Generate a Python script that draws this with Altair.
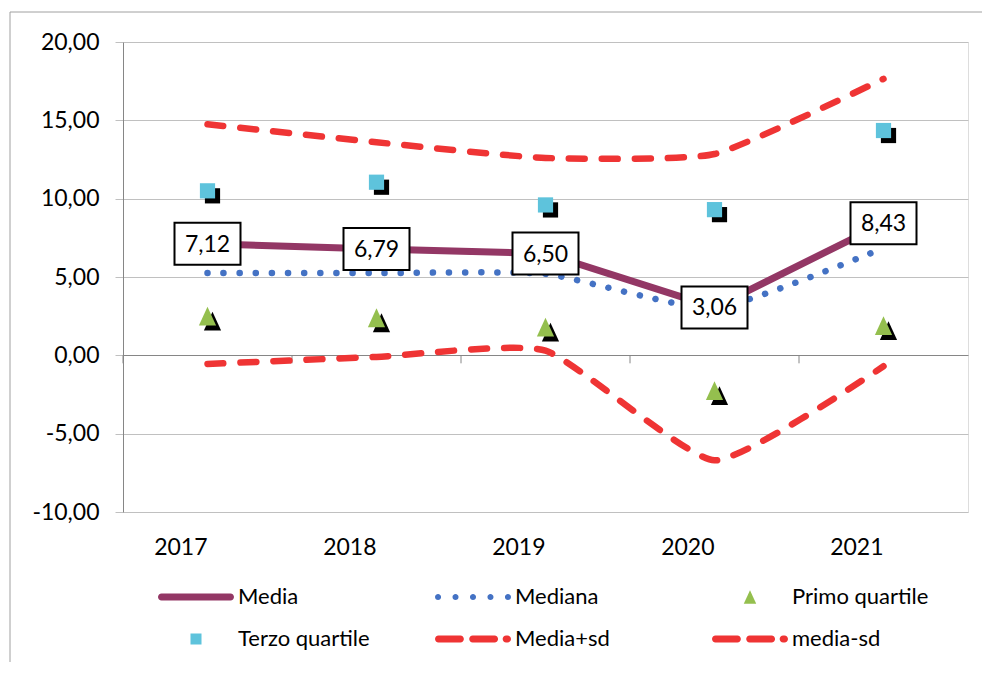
import altair as alt
import pandas as pd

anni = ["2017", "2018", "2019", "2020", "2021"]
media = [7.12, 6.79, 6.50, 3.06, 8.43]
mediana = [5.25, 5.25, 5.2, 3.0, 6.85]
primo_quartile = [2.5, 2.4, 1.8, -2.25, 1.9]
terzo_quartile = [10.5, 11.05, 9.6, 9.3, 14.35]
media_piu_sd = [14.75, 13.6, 12.6, 12.85, 17.65]
media_meno_sd = [-0.55, -0.1, 0.3, -6.7, -0.7]
etichette_media = ["7,12", "6,79", "6,50", "3,06", "8,43"]

serie = ["Media", "Mediana", "Primo quartile", "Terzo quartile", "Media+sd", "media-sd"]
# legend is filled column by column: order entries so rows read as in the original
ordine_legenda = ["Media", "Terzo quartile", "Mediana", "Media+sd", "Primo quartile", "media-sd"]
colori = {"Media": "#933765", "Mediana": "#4472c4", "Primo quartile": "#94bf4e",
          "Terzo quartile": "#5ec3dc", "Media+sd": "#ef3434", "media-sd": "#ef3434"}
valori_y = [-10, -5, 0, 5, 10, 15, 20]

FONT = "Lato"


def capsule(x0, x1, h):
    return (f"M{x0 + h},{-h}L{x1 - h},{-h}A{h},{h} 0 0 1 {x1 - h},{h}"
            f"L{x0 + h},{h}A{h},{h} 0 0 1 {x0 + h},{-h}Z")


def circle(cx, r):
    return f"M{cx - r},0A{r},{r} 0 1 1 {cx + r},0A{r},{r} 0 1 1 {cx - r},0Z"


H = 0.092
path_media = capsule(-1, 1, H)
path_mediana = "".join(circle(c, 0.08) for c in [-0.92, -0.46, 0, 0.46, 0.92])
path_dash = capsule(-1, -0.24, H) + capsule(-0.1, 0.66, H) + capsule(0.78, 1.0, H)
path_tri = "M0,-0.18L0.164,0.18L-0.164,0.18Z"
path_sq = "M-0.145,-0.145L0.145,-0.145L0.145,0.145L-0.145,0.145Z"
forme = {"Media": path_media, "Mediana": path_mediana, "Primo quartile": path_tri,
         "Terzo quartile": path_sq, "Media+sd": path_dash, "media-sd": path_dash}

valori = [media, mediana, primo_quartile, terzo_quartile, media_piu_sd, media_meno_sd]
df = pd.DataFrame(
    [{"anno": a, "serie": s, "valore": v}
     for s, vals in zip(serie, valori) for a, v in zip(anni, vals)]
)
df_lab = pd.DataFrame({"anno": anni, "valore": media, "etichetta": etichette_media})
df_anni = pd.DataFrame({"anno": anni})

xscale = alt.Scale(domain=anni, type="band", paddingInner=0, paddingOuter=0)
yscale = alt.Scale(domain=[-10, 20], nice=False, zero=False)

X = alt.X("anno:N", scale=xscale, sort=anni,
          axis=alt.Axis(title=None, domain=False, ticks=False, grid=False, labelAngle=0,
                        labelPadding=35, labelFont=FONT, labelFontSize=23, labelColor="black"))
Y = alt.Y("valore:Q", scale=yscale,
          axis=alt.Axis(title=None, values=valori_y,
                        labelExpr="(datum.value < 0 ? '-' : '') + replace(format(abs(datum.value), '.2f'), '.', ',')",
                        grid=True,
                        gridColor={"condition": {"test": "datum.value === 0", "value": "#868686"},
                                   "value": "#c0c0c0"},
                        domainColor="#868686", tickColor="#c0c0c0", tickSize=8,
                        labelFont=FONT, labelFontSize=23, labelColor="black", labelPadding=16))

base = alt.Chart(df)

frame = alt.Chart(pd.DataFrame({"k": [0]})).mark_rect(
    fillOpacity=0, stroke="#a0a0a0", strokeWidth=1
).encode(x=alt.value(-113), x2=alt.value(900), y=alt.value(-30), y2=alt.value(700))

ticks = alt.Chart(df_anni).mark_rule(color="#868686", strokeWidth=1).encode(
    x=alt.X("anno:N", scale=xscale, sort=anni, bandPosition=0),
    y=alt.datum(0), y2=alt.datum(-0.51)
)

line_media = base.transform_filter(alt.datum.serie == "Media").mark_line(
    color=colori["Media"], strokeWidth=7, strokeCap="round", interpolate="linear"
).encode(x=X, y=Y)

line_mediana = base.transform_filter(alt.datum.serie == "Mediana").mark_line(
    color=colori["Mediana"], strokeWidth=6.5, strokeCap="round", strokeDash=[0.1, 16],
    interpolate="cardinal", tension=0.5
).encode(x=X, y=Y)

line_piu = base.transform_filter(alt.datum.serie == "Media+sd").mark_line(
    color=colori["Media+sd"], strokeWidth=6.5, strokeCap="round", strokeDash=[16, 17],
    interpolate="cardinal", tension=0.5
).encode(x=X, y=Y)

line_meno = base.transform_filter(alt.datum.serie == "media-sd").mark_line(
    color=colori["media-sd"], strokeWidth=6.5, strokeCap="round", strokeDash=[16, 17],
    interpolate="cardinal", tension=0.5
).encode(x=X, y=Y)

PSIZE = 11000
shadow_tri = base.transform_filter(alt.datum.serie == "Primo quartile").mark_point(
    shape=path_tri, size=PSIZE, filled=True, color="black", opacity=1, xOffset=5, yOffset=5
).encode(x=X, y=Y)
shadow_sq = base.transform_filter(alt.datum.serie == "Terzo quartile").mark_point(
    shape=path_sq, size=PSIZE, filled=True, color="black", opacity=1, xOffset=5, yOffset=5
).encode(x=X, y=Y)

leg = dict(title=None, orient="none", legendX=35, legendY=545, columns=3,
           symbolSize=5776, symbolStrokeWidth=0, clipHeight=20, rowPadding=20,
           columnPadding=60, gridAlign="all", labelFont=FONT, labelFontSize=22,
           labelColor="black", labelOffset=4, symbolOpacity=1, padding=0)

points = base.transform_filter(
    (alt.datum.serie == "Primo quartile") | (alt.datum.serie == "Terzo quartile")
).mark_point(size=PSIZE, filled=True, opacity=1).encode(
    x=X, y=Y,
    color=alt.Color("serie:N", sort=ordine_legenda,
                    scale=alt.Scale(domain=ordine_legenda, range=[colori[s] for s in ordine_legenda]),
                    legend=alt.Legend(**leg)),
    shape=alt.Shape("serie:N", sort=ordine_legenda,
                    scale=alt.Scale(domain=ordine_legenda, range=[forme[s] for s in ordine_legenda]),
                    legend=alt.Legend(**leg)),
)

boxes = alt.Chart(df_lab).mark_point(
    shape="M-1,-0.636L1,-0.636L1,0.636L-1,0.636Z", size=4356, filled=True,
    fill="white", stroke="black", strokeWidth=2, opacity=1
).encode(x=X, y=Y)

texts = alt.Chart(df_lab).mark_text(
    font=FONT, fontSize=23, color="black", align="center", baseline="middle", dy=1
).encode(x=X, y=Y, text="etichetta:N")

chart = alt.layer(
    frame, ticks, line_media, line_mediana, shadow_tri, shadow_sq, points,
    line_piu, line_meno, boxes, texts
).properties(
    width=845, height=470,
    autosize=alt.AutoSizeParams(type="none"),
    padding={"left": 115, "top": 34, "right": 14, "bottom": 150},
).configure_view(strokeWidth=0).configure(background="white")

chart.save("out.html", embed_options={"renderer": "svg", "actions": False})
